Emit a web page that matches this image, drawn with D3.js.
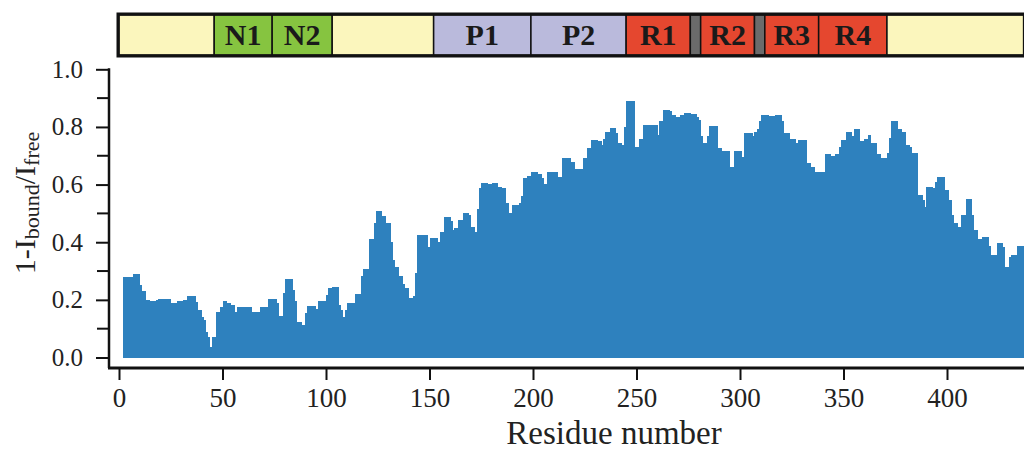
<!DOCTYPE html>
<html>
<head>
<meta charset="utf-8">
<script src="https://cdn.jsdelivr.net/npm/d3@7"></script>
<style>
  body { margin: 0; background: #fff; }
  svg { display: block; }
  text { font-family: "Liberation Serif", "Times New Roman", serif; }
</style>
</head>
<body>
<div id="canvasContainer"></div>
<script>
// Residue where each step of the profile starts, and its 1-Ibound/Ifree value
var resStart = [2, 7, 10, 11, 13, 15, 18, 19, 25, 28, 31, 33, 37, 38, 40, 41, 42, 43, 44, 45,
  47, 49, 50, 52, 54, 56, 57, 64, 68, 72, 76, 77, 79, 80, 84, 85, 86, 88, 90, 91,
  95, 96, 100, 101, 103, 106, 107, 108, 109, 110, 114, 117, 118, 121, 123, 124, 127, 129, 131, 132,
  133, 135, 137, 138, 140, 142, 143, 144, 149, 150, 154, 155, 157, 160, 161, 162, 164, 166, 169, 170,
  172, 173, 174, 175, 178, 180, 183, 185, 187, 188, 190, 193, 194, 195, 197, 199, 202, 204, 205, 207,
  212, 214, 218, 220, 224, 226, 228, 231, 233, 234, 235, 237, 240, 241, 243, 244, 245, 249, 251, 253,
  260, 261, 263, 266, 267, 269, 271, 273, 276, 279, 280, 281, 282, 284, 285, 289, 291, 295, 297, 301,
  302, 306, 307, 308, 309, 310, 314, 317, 320, 321, 324, 327, 328, 332, 334, 336, 339, 341, 344, 346,
  348, 349, 351, 354, 355, 358, 360, 362, 363, 366, 368, 371, 372, 373, 376, 378, 380, 382, 383, 386,
  388, 389, 390, 393, 394, 395, 399, 401, 402, 403, 405, 407, 409, 412, 413, 415, 417, 420, 421, 424,
  427, 428, 430, 431, 434];
var ratio = [0.28, 0.29, 0.25, 0.23, 0.20, 0.195, 0.20, 0.202, 0.19, 0.195, 0.20, 0.213, 0.194, 0.165, 0.142, 0.13, 0.09, 0.072, 0.035, 0.07,
  0.159, 0.176, 0.197, 0.19, 0.182, 0.159, 0.176, 0.159, 0.176, 0.202, 0.19, 0.144, 0.223, 0.273, 0.234, 0.197, 0.124, 0.113, 0.153, 0.179,
  0.17, 0.197, 0.217, 0.24, 0.246, 0.182, 0.165, 0.14, 0.165, 0.19, 0.22, 0.283, 0.307, 0.41, 0.466, 0.51, 0.491, 0.466, 0.402, 0.339,
  0.315, 0.283, 0.254, 0.24, 0.205, 0.213, 0.292, 0.425, 0.383, 0.414, 0.402, 0.437, 0.489, 0.472, 0.443, 0.449, 0.477, 0.50, 0.495, 0.454,
  0.437, 0.515, 0.587, 0.605, 0.601, 0.605, 0.593, 0.587, 0.535, 0.503, 0.53, 0.535, 0.561, 0.622, 0.63, 0.645, 0.638, 0.622, 0.601, 0.643,
  0.626, 0.692, 0.68, 0.653, 0.692, 0.726, 0.755, 0.75, 0.738, 0.758, 0.784, 0.796, 0.778, 0.744, 0.738, 0.801, 0.89, 0.732, 0.758, 0.807,
  0.773, 0.822, 0.859, 0.856, 0.842, 0.834, 0.842, 0.848, 0.845, 0.836, 0.825, 0.769, 0.746, 0.767, 0.804, 0.726, 0.718, 0.66, 0.715, 0.697,
  0.778, 0.767, 0.781, 0.792, 0.819, 0.842, 0.839, 0.84, 0.822, 0.778, 0.758, 0.746, 0.753, 0.676, 0.66, 0.645, 0.642, 0.707, 0.70, 0.707,
  0.732, 0.755, 0.781, 0.769, 0.792, 0.75, 0.758, 0.773, 0.744, 0.707, 0.692, 0.711, 0.761, 0.822, 0.792, 0.784, 0.738, 0.732, 0.711, 0.564,
  0.547, 0.521, 0.59, 0.587, 0.61, 0.626, 0.582, 0.547, 0.495, 0.468, 0.454, 0.495, 0.549, 0.495, 0.443, 0.41, 0.417, 0.387, 0.356, 0.399,
  0.385, 0.315, 0.35, 0.356, 0.387];
var lastResidue = 437;

// Domain map drawn above the plot
var domainStart = [0, 46, 74, 103, 152, 199, 245, 276, 281, 307, 312, 338, 371];
var domainEnd   = [46, 74, 103, 152, 199, 245, 276, 281, 307, 312, 338, 371, 437];
var domainName  = ["", "N1", "N2", "", "P1", "P2", "R1", "", "R2", "", "R3", "R4", ""];
var domainKind  = ["linker", "N", "N", "linker", "P", "P", "R", "gap", "R", "gap", "R", "R", "linker"];

var xTicks = [0, 50, 100, 150, 200, 250, 300, 350, 400];
var yTicks = [0, 0.2, 0.4, 0.6, 0.8, 1.0];
var yMinorTicks = [0.1, 0.3, 0.5, 0.7, 0.9];

var width = 1024;
var height = 450;

var svg = d3.select("#canvasContainer").append("svg").attr("width", width).attr("height", height);

var x = d3.scaleLinear().domain([0, lastResidue]).range([119, 119 + 2.07 * lastResidue]);
var y = d3.scaleLinear().domain([0, 1]).range([357.5, 69.3]);

var kindColor = { linker: "#fbf6bd", N: "#86c440", P: "#babadc", R: "#e5472f", gap: "#6b6b6b" };

// bars, one per step of the profile
svg.append("g")
    .attr("class", "bars")
  .selectAll("rect")
  .data(resStart)
  .enter().append("rect")
    .attr("x", function(d) { return x(d); })
    .attr("y", function(d, i) { return y(ratio[i]); })
    .attr("width", function(d, i) {
      var next = i < resStart.length - 1 ? resStart[i + 1] : lastResidue;
      return x(next) - x(d) + 0.4;
    })
    .attr("height", function(d, i) { return y(0) - y(ratio[i]); })
    .attr("fill", "#2e81be")
    .attr("shape-rendering", "crispEdges");

// y axis
var yAxis = svg.append("g")
    .attr("transform", "translate(109,0)")
    .call(d3.axisLeft(y).tickValues(yTicks).tickFormat(d3.format(".1f")).tickSize(13).tickPadding(13));
yAxis.select(".domain").remove();
yAxis.selectAll(".tick line").attr("stroke", "#111").attr("stroke-width", 2);
yAxis.selectAll(".tick text").attr("font-size", 25).attr("fill", "#222")
    .attr("font-family", "Liberation Serif");

yAxis.selectAll(".minor")
  .data(yMinorTicks)
  .enter().append("line")
    .attr("class", "minor")
    .attr("x1", -12).attr("x2", 0)
    .attr("y1", function(d) { return y(d); })
    .attr("y2", function(d) { return y(d); })
    .attr("stroke", "#111").attr("stroke-width", 2);

svg.append("line")
    .attr("x1", 109).attr("x2", 109)
    .attr("y1", y(1) - 1).attr("y2", 368)
    .attr("stroke", "#111").attr("stroke-width", 2.5);

// x axis
var xAxis = svg.append("g")
    .attr("transform", "translate(0,368)")
    .call(d3.axisBottom(x).tickValues(xTicks).tickSize(12).tickPadding(8));
xAxis.select(".domain").remove();
xAxis.selectAll(".tick line").attr("stroke", "#111").attr("stroke-width", 2);
xAxis.selectAll(".tick text").attr("font-size", 27).attr("fill", "#222")
    .attr("font-family", "Liberation Serif");

svg.append("line")
    .attr("x1", 108).attr("x2", width)
    .attr("y1", 368).attr("y2", 368)
    .attr("stroke", "#111").attr("stroke-width", 3);

svg.append("text")
    .attr("x", 614).attr("y", 444)
    .attr("text-anchor", "middle")
    .attr("font-size", 33)
    .attr("fill", "#222")
    .text("Residue number");

// y label with subscripts
var yLabel = svg.append("text")
    .attr("transform", "translate(35,203) rotate(-90)")
    .attr("text-anchor", "middle")
    .attr("font-size", 30)
    .attr("fill", "#222");
yLabel.append("tspan").text("1-I");
yLabel.append("tspan").attr("font-size", 22).attr("dy", 4).text("bound");
yLabel.append("tspan").attr("dy", -4).text("/I");
yLabel.append("tspan").attr("font-size", 22).attr("dy", 4).text("free");

// domain map
var mapTop = 15, mapH = 40;
var dom = svg.append("g").attr("class", "domains");

dom.selectAll("rect")
  .data(domainStart)
  .enter().append("rect")
    .attr("x", function(d) { return x(d); })
    .attr("y", mapTop)
    .attr("width", function(d, i) { return x(domainEnd[i]) - x(d); })
    .attr("height", mapH)
    .attr("fill", function(d, i) { return kindColor[domainKind[i]]; })
    .attr("stroke", "#111")
    .attr("stroke-width", 1.5);

dom.selectAll("text")
  .data(domainStart)
  .enter().append("text")
    .attr("x", function(d, i) { return (x(d) + x(domainEnd[i])) / 2; })
    .attr("y", mapTop + mapH / 2 + 10)
    .attr("text-anchor", "middle")
    .attr("font-size", 30)
    .attr("font-weight", "bold")
    .attr("fill", "#1a1a1a")
    .text(function(d, i) { return domainName[i]; });

dom.append("rect")
    .attr("x", x(0) - 1)
    .attr("y", mapTop - 1)
    .attr("width", x(lastResidue) - x(0) + 10)
    .attr("height", mapH + 2)
    .attr("fill", "none")
    .attr("stroke", "#111")
    .attr("stroke-width", 3);
</script>
</body>
</html>
